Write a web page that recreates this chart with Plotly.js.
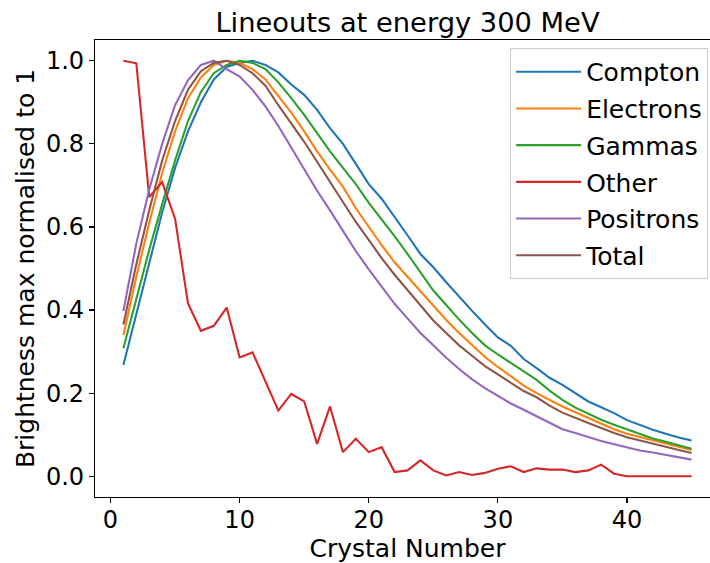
<!DOCTYPE html>
<html>
<head>
<meta charset="utf-8">
<script src="https://cdn.plot.ly/plotly-3.0.1.min.js"></script>
<style>
html, body { margin: 0; padding: 0; overflow: hidden; background: #fff; }
#chart { width: 721px; height: 563px; }
</style>
</head>
<body>
<div id="chart"></div>
<script>
// Crystal numbers
const crystals = [];
for (let i = 1; i <= 45; i++) crystals.push(i);

const compton = [0.268, 0.39, 0.515, 0.635, 0.742, 0.83, 0.9, 0.955, 0.985, 0.995,
  1.0, 0.99, 0.972, 0.943, 0.918, 0.882, 0.838, 0.8, 0.752, 0.703,
  0.668, 0.625, 0.58, 0.535, 0.503, 0.467, 0.432, 0.398, 0.365, 0.334,
  0.314, 0.282, 0.26, 0.237, 0.22, 0.2, 0.18, 0.166, 0.152, 0.135,
  0.123, 0.112, 0.102, 0.093, 0.086];

const electrons = [0.34, 0.48, 0.61, 0.73, 0.83, 0.91, 0.96, 0.99, 1.0, 0.995,
  0.98, 0.955, 0.915, 0.875, 0.83, 0.782, 0.738, 0.697, 0.645, 0.6,
  0.556, 0.515, 0.48, 0.445, 0.41, 0.376, 0.345, 0.315, 0.287, 0.263,
  0.24, 0.218, 0.2, 0.183, 0.168, 0.154, 0.14, 0.126, 0.113, 0.102,
  0.094, 0.086, 0.078, 0.07, 0.063];

const gammas = [0.308, 0.43, 0.545, 0.655, 0.76, 0.855, 0.925, 0.97, 0.99, 1.0,
  0.995, 0.98, 0.948, 0.91, 0.87, 0.826, 0.782, 0.742, 0.703, 0.658,
  0.618, 0.578, 0.535, 0.49, 0.447, 0.412, 0.377, 0.345, 0.315, 0.293,
  0.272, 0.253, 0.232, 0.206, 0.184, 0.165, 0.15, 0.136, 0.124, 0.113,
  0.101, 0.091, 0.083, 0.074, 0.066];

const other = [1.0, 0.994, 0.672, 0.708, 0.62, 0.416, 0.35, 0.362, 0.406, 0.286,
  0.298, 0.228, 0.158, 0.198, 0.18, 0.078, 0.168, 0.058, 0.09, 0.058,
  0.07, 0.01, 0.014, 0.038, 0.014, 0.002, 0.01, 0.003, 0.008, 0.018,
  0.024, 0.01, 0.019, 0.016, 0.016, 0.01, 0.014, 0.028, 0.006, 0.0,
  0.0, 0.0, 0.0, 0.0, 0.0];

const positrons = [0.398, 0.56, 0.69, 0.8, 0.893, 0.953, 0.99, 1.0, 0.98, 0.962,
  0.93, 0.89, 0.843, 0.792, 0.74, 0.687, 0.64, 0.59, 0.542, 0.498,
  0.455, 0.415, 0.38, 0.345, 0.315, 0.285, 0.258, 0.233, 0.212, 0.193,
  0.175, 0.16, 0.145, 0.13, 0.113, 0.104, 0.094, 0.085, 0.077, 0.069,
  0.062, 0.057, 0.051, 0.046, 0.04];

const total = [0.365, 0.51, 0.64, 0.76, 0.855, 0.93, 0.975, 0.995, 1.0, 0.99,
  0.97, 0.94, 0.893, 0.85, 0.805, 0.757, 0.71, 0.66, 0.612, 0.568,
  0.525, 0.485, 0.448, 0.41, 0.375, 0.345, 0.315, 0.29, 0.265, 0.245,
  0.225, 0.205, 0.19, 0.17, 0.153, 0.14, 0.128, 0.116, 0.104, 0.094,
  0.086, 0.078, 0.07, 0.063, 0.056];

const seriesNames = ["Compton", "Electrons", "Gammas", "Other", "Positrons", "Total"];
const seriesValues = [compton, electrons, gammas, other, positrons, total];
const seriesColors = ["#1f77b4", "#ff7f0e", "#2ca02c", "#d62728", "#9467bd", "#8c564b"];

const xTicks = [0, 10, 20, 30, 40];
const yTicks = [0.0, 0.2, 0.4, 0.6, 0.8, 1.0];

const traces = seriesNames.map((name, i) => ({
  x: crystals,
  y: seriesValues[i],
  name: name,
  legendgroup: name,
  type: "scatter",
  mode: "lines",
  line: { color: seriesColors[i], width: 2.1 }
}));

const font = "DejaVu Sans, sans-serif";

const layout = {
  width: 721,
  height: 563,
  margin: { l: 95, r: 1, t: 40, b: 66 },
  paper_bgcolor: "#ffffff",
  plot_bgcolor: "#ffffff",
  font: { family: font, size: 25, color: "#000" },
  title: {
    text: "Lineouts at energy 300 MeV",
    font: { family: font, size: 27.3, color: "#000" },
    x: 0.5, xanchor: "center", xref: "paper",
    y: 0.96, yanchor: "middle"
  },
  xaxis: {
    range: [-1.2, 47.2],
    tickvals: xTicks,
    ticktext: xTicks.map(String),
    ticks: "outside", ticklen: 5, tickwidth: 1.1, tickcolor: "#000",
    ticklabelstandoff: -4,
    showline: true, linecolor: "#000", linewidth: 1.1, mirror: true,
    showgrid: false, zeroline: false,
    tickfont: { family: font, size: 24, color: "#000" },
    title: { text: "Crystal Number", font: { family: font, size: 25, color: "#000" }, standoff: 14 }
  },
  yaxis: {
    range: [-0.05, 1.05],
    tickvals: yTicks,
    ticktext: yTicks.map(v => v.toFixed(1)),
    ticks: "outside", ticklen: 5, tickwidth: 1.1, tickcolor: "#000",
    showline: true, linecolor: "#000", linewidth: 1.1, mirror: true,
    showgrid: false, zeroline: false,
    tickfont: { family: font, size: 24, color: "#000" },
    title: { text: "Brightness max normalised to 1", font: { family: font, size: 25, color: "#000" }, standoff: 4 }
  },
  legend: {
    x: 0.981, xanchor: "right", xref: "paper",
    y: 0.9825, yanchor: "top", yref: "paper",
    bgcolor: "rgba(255,255,255,0.8)",
    bordercolor: "#cccccc", borderwidth: 1,
    font: { family: font, size: 25, color: "#000" },
    itemwidth: 65,
    tracegroupgap: 1.2
  },
  showlegend: true
};

Plotly.newPlot("chart", traces, layout, { displayModeBar: false, staticPlot: true });
</script>
</body>
</html>
